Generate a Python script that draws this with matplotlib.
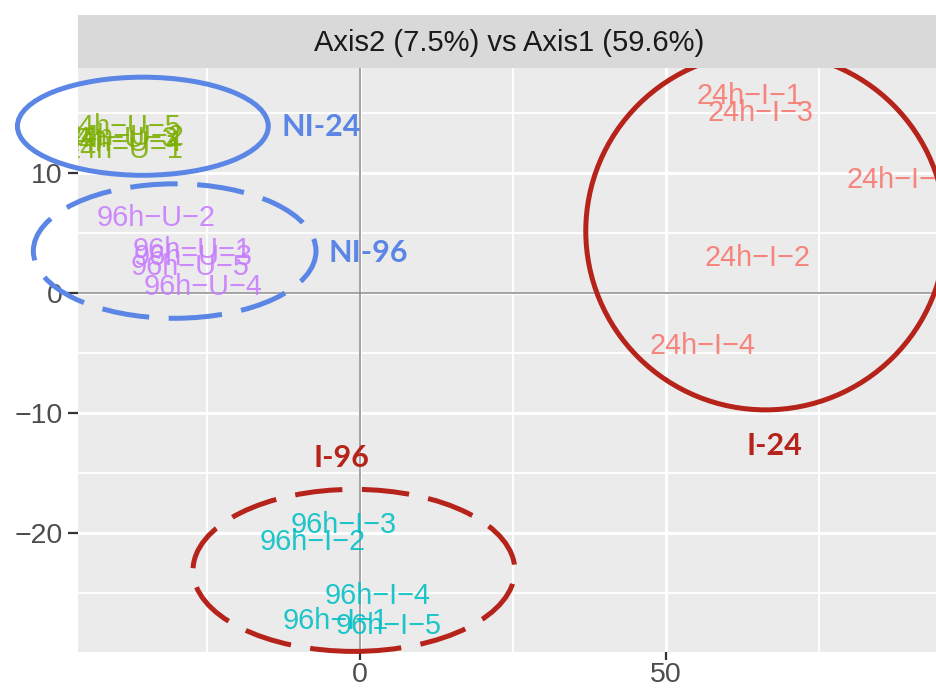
import matplotlib.pyplot as plt
from matplotlib.patches import Ellipse
from matplotlib.ticker import MultipleLocator

# sample scores on the first two axes
u24_names = ['24h−U−1', '24h−U−2', '24h−U−3', '24h−U−4', '24h−U−5']
u24_x = [-38.6, -38.5, -39.5, -38.8, -39.0]
u24_y = [11.9, 13.0, 12.8, 12.5, 13.8]

u96_names = ['96h−U−1', '96h−U−2', '96h−U−3', '96h−U−4', '96h−U−5']
u96_x = [-27.4, -33.3, -27.3, -25.7, -27.8]
u96_y = [3.6, 6.25, 3.0, 0.5, 2.2]

i24_names = ['24h−I−1', '24h−I−2', '24h−I−3', '24h−I−4', '24h−I−5']
i24_x = [63.6, 64.9, 65.5, 56.0, 88.1]
i24_y = [16.4, 2.9, 15.0, -4.4, 9.4]

i96_names = ['96h−I−1', '96h−I−2', '96h−I−3', '96h−I−4', '96h−I−5']
i96_x = [-3.9, -7.8, -2.6, 2.8, 4.7]
i96_y = [-27.3, -20.7, -19.3, -25.2, -27.7]

# group outlines: name, centre, width, height, label position
grp_names = ['NI-24', 'NI-96', 'I-24', 'I-96']
grp_center = [(-35.5, 13.9), (-30.3, 3.5), (66.3, 5.17), (-1.0, -23.1)]
grp_size = [(41.0, 8.17), (46.2, 11.2), (58.8, 29.8), (52.6, 13.5)]
grp_label_xy = [(-6.3, 13.8), (1.3, 3.3), (67.8, -12.75), (-3.1, -13.7)]
grp_color = ['#5B86E6', '#5B86E6', '#B5231A', '#B5231A']
grp_dashed = [False, True, False, True]

title = 'Axis2 (7.5%) vs Axis1 (59.6%)'

plt.rcParams['font.family'] = ['Liberation Sans', 'DejaVu Sans']

W, H = 936, 689
fig = plt.figure(figsize=(W / 100, H / 100), dpi=100)
left, right, top, bottom = 78, 940, 68, 652
ax = fig.add_axes([left / W, 1 - bottom / H, (right - left) / W, (bottom - top) / H])
strip = fig.add_axes([left / W, 1 - top / H, (right - left) / W, (top - 15) / H])

ax.set_facecolor('#EBEBEB')
ax.set_xlim(-46.1, 94.8)
ax.set_ylim(-29.9, 18.75)
ax.xaxis.set_major_locator(MultipleLocator(50))
ax.xaxis.set_minor_locator(MultipleLocator(25))
ax.yaxis.set_major_locator(MultipleLocator(10))
ax.yaxis.set_minor_locator(MultipleLocator(5))
ax.grid(which='major', color='white', lw=2.2)
ax.grid(which='minor', color='white', lw=1.3)
ax.set_axisbelow(True)
for s in ax.spines.values():
    s.set_visible(False)
ax.tick_params(which='major', width=1.6, color='#333333',
               labelsize=20.5, labelcolor='#4D4D4D')
ax.tick_params(axis='y', which='major', length=7, pad=4)
ax.tick_params(axis='x', which='major', length=6, pad=1.5)
ax.tick_params(which='minor', length=0)

ax.axhline(0, color='#8A8A8A', lw=1.1, zorder=1)
ax.axvline(0, color='#8A8A8A', lw=1.1, zorder=1)

for names, xs, ys, col in [(u96_names, u96_x, u96_y, '#C77CFF'),
                           (u24_names, u24_x, u24_y, '#7CAE00'),
                           (i96_names, i96_x, i96_y, '#00BFC4'),
                           (i24_names, i24_x, i24_y, '#F8766D')]:
    for n, x, y in zip(names, xs, ys):
        ax.text(x, y, n, color=col, alpha=0.88, fontsize=20.8,
                ha='center', va='center', clip_on=True, zorder=3)

for name, c, sz, lxy, col, dashed in zip(grp_names, grp_center, grp_size,
                                          grp_label_xy, grp_color, grp_dashed):
    ls = (0, (9.5, 3.9)) if dashed else '-'
    ax.add_patch(Ellipse(c, sz[0], sz[1], fill=False, ec=col, lw=3.6,
                         ls=ls, clip_on=False, zorder=5))
    ax.text(lxy[0], lxy[1], name, color=col, fontsize=22, fontweight='bold',
            family=['Lato', 'DejaVu Sans'], ha='center', va='center', zorder=5)

strip.set_facecolor('#D9D9D9')
strip.set_xticks([])
strip.set_yticks([])
for s in strip.spines.values():
    s.set_visible(False)
strip.text(0.5, 0.47, title, ha='center', va='center', fontsize=21,
           color='#1A1A1A', transform=strip.transAxes)

fig.savefig('out.png', dpi=100)
